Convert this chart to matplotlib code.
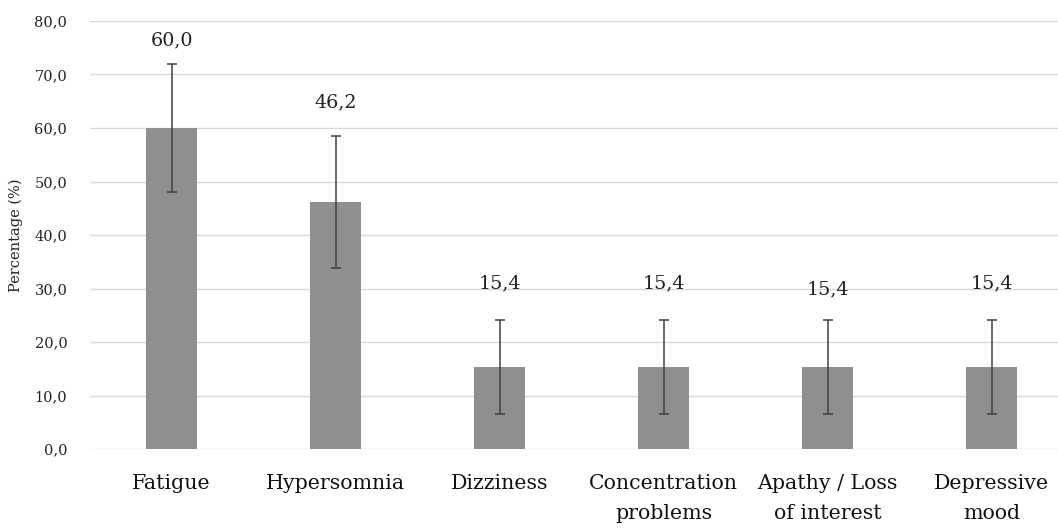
import numpy as np
import matplotlib
matplotlib.use("Agg")
import matplotlib.pyplot as plt
from matplotlib.ticker import FuncFormatter

# data
categories = ["Fatigue", "Hypersomnia", "Dizziness", "Concentration\nproblems",
              "Apathy / Loss\nof interest", "Depressive\nmood"]
values = [60.0, 46.2, 15.4, 15.4, 15.4, 15.4]
errors = [12.0, 12.3, 8.8, 8.8, 8.8, 8.8]
value_labels = ["60,0", "46,2", "15,4", "15,4", "15,4", "15,4"]

plt.rcParams['font.family'] = ['DejaVu Serif']

fig = plt.figure(figsize=(10.58, 5.29), dpi=100)
ax = fig.add_axes([89.5 / 1058, 80 / 529, 1 - 89.5 / 1058, 428 / 529])

x = np.arange(len(categories))
ax.bar(x, values, width=0.31, color='#8f8f8f', zorder=2)
ax.errorbar(x, values, yerr=errors, fmt='none', ecolor='#404040',
            elinewidth=1.1, capsize=3.5, capthick=1.1, zorder=3)

# value labels above the error bars
label_offsets = [4.4, 6.2, 6.8, 6.8, 5.7, 6.8]
for xi, v, e, off, txt in zip(x, values, errors, label_offsets, value_labels):
    ax.text(xi, v + e + off, txt, ha='center', va='center', fontsize=13.8, color='#222222')

ax.set_ylim(0, 80)
ax.set_xlim(-0.5, 5.405)
ax.set_yticks(np.arange(0, 81, 10))
ax.yaxis.set_major_formatter(FuncFormatter(lambda v, p: f"{v:.1f}".replace('.', ',')))
ax.set_xticks(x)
ax.set_xticklabels(categories, fontsize=14.8, color='#111111', linespacing=1.75)
ax.tick_params(axis='y', labelsize=10.5, colors='#222222', length=0, pad=23)
ax.tick_params(axis='y', pad=16)
ax.tick_params(axis='x', length=0, pad=18)
ax.grid(axis='y', color='#d9d9d9', linewidth=1, zorder=0)
ax.set_axisbelow(True)
for s in ['top', 'right', 'left', 'bottom']:
    ax.spines[s].set_visible(False)
ax.set_ylabel('Percentage (%)', fontsize=10.5, color='#222222', labelpad=8)

fig.savefig('out.png', dpi=100)
